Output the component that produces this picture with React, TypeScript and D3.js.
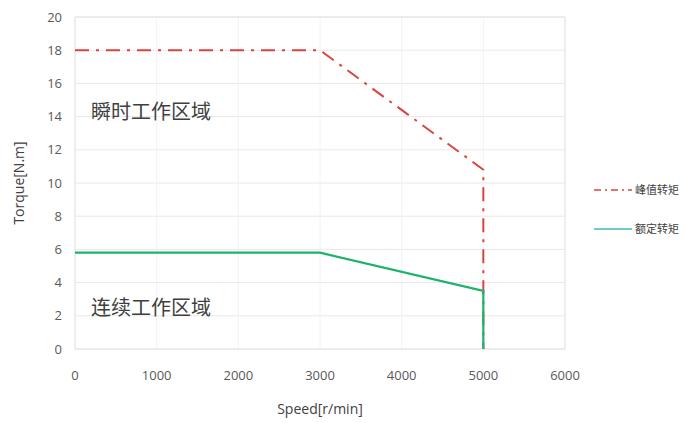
import React from "react";
import * as d3 from "d3";

const peakSpeed = [0, 3000, 5000, 5000];
const peakTorque = [18, 18, 10.8, 0];
const ratedSpeed = [0, 3000, 5000, 5000];
const ratedTorque = [5.8, 5.8, 3.5, 0];
const xTicks = [0, 1000, 2000, 3000, 4000, 5000, 6000];
const yTicks = [0, 2, 4, 6, 8, 10, 12, 14, 16, 18, 20];
const legendLabels = ["峰值转矩", "额定转矩"];
const regionLabels = ["瞬时工作区域", "连续工作区域"];
const regionPos = [[0, 14.3], [0, 2.5]];

const W = 687, H = 423;
const left = 75, right = 565, top = 17, bottom = 349;
const latin = "'Open Sans', 'Noto Sans', sans-serif";
const cjk = "'Noto Sans CJK SC', sans-serif";

export default function App() {
  const x = d3.scaleLinear().domain([0, 6000]).range([left, right]);
  const y = d3.scaleLinear().domain([0, 20]).range([bottom, top]);
  const line = d3.line<[number, number]>().x(d => x(d[0])).y(d => y(d[1]));
  const peak = peakSpeed.map((s, i) => [s, peakTorque[i]] as [number, number]);
  const rated = ratedSpeed.map((s, i) => [s, ratedTorque[i]] as [number, number]);
  const red = "#d9443f";
  const green = "#1db36a";
  const dash = "14,7,3,7";
  return (
    <svg width={W} height={H} style={{ position: "absolute", left: 0, top: 0, background: "#fff" }}>
      {yTicks.map(t => (
        <line key={"gy" + t} x1={left} x2={right} y1={y(t)} y2={y(t)} stroke="#e8e8e8" strokeWidth={1} />
      ))}
      {xTicks.map(t => (
        <line key={"gx" + t} x1={x(t)} x2={x(t)} y1={top} y2={bottom} stroke="#f2f2f2" strokeWidth={1} />
      ))}
      <rect x={left} y={top} width={right - left} height={bottom - top} fill="none" stroke="#e3e3e3" />
      {yTicks.map(t => (
        <text key={"ty" + t} x={62} y={y(t)} dy="0.35em" textAnchor="end" fontFamily={latin} fontSize={13} fill="#595959">{t}</text>
      ))}
      {xTicks.map(t => (
        <text key={"tx" + t} x={x(t)} y={380} textAnchor="middle" fontFamily={latin} fontSize={13} fill="#595959">{t}</text>
      ))}
      <text x={x(3000)} y={414} textAnchor="middle" fontFamily={latin} fontSize={14} fill="#404040">Speed[r/min]</text>
      <text transform={`translate(24,${y(10)}) rotate(-90)`} textAnchor="middle" fontFamily={latin} fontSize={14} fill="#404040">Torque[N.m]</text>
      <path d={line(peak) || ""} fill="none" stroke={red} strokeWidth={2} strokeDasharray={dash} />
      <path d={line(rated) || ""} fill="none" stroke={green} strokeWidth={2.2} />
      {regionLabels.map((l, i) => (
        <text key={l} x={x(regionPos[i][0]) + 16} y={y(regionPos[i][1])} dy="0.35em" fontFamily={cjk} fontSize={20} fill="#404040">{l}</text>
      ))}
      <line x1={594} x2={632} y1={190} y2={190} stroke={red} strokeWidth={1.5} strokeDasharray="7,4,2,4" />
      <text x={635} y={190} dy="0.35em" fontFamily={cjk} fontSize={11} fill="#404040">{legendLabels[0]}</text>
      <line x1={594} x2={632} y1={229} y2={229} stroke="#3cbfae" strokeWidth={1.5} />
      <text x={635} y={229} dy="0.35em" fontFamily={cjk} fontSize={11} fill="#404040">{legendLabels[1]}</text>
    </svg>
  );
}
